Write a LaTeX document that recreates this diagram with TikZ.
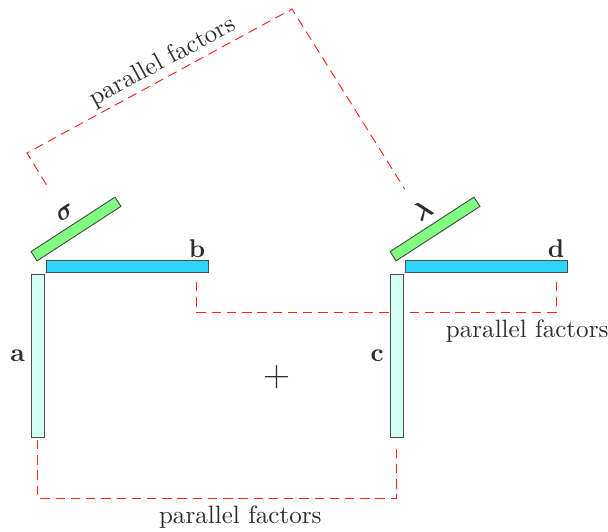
\documentclass[tikz,border=0pt]{standalone}
\usepackage{amsmath,amssymb,bm}
\usetikzlibrary{positioning,calc,backgrounds}
\definecolor{factorA}{RGB}{212,255,245}
\definecolor{factorB}{RGB}{48,213,255}
\definecolor{weightGreen}{RGB}{128,255,128}
\definecolor{pfRed}{RGB}{255,30,30}
\definecolor{labelGray}{RGB}{45,45,45}
\tikzset{
  basebar/.style={rectangle,draw=black!70,inner sep=0pt,outer sep=0pt},
  colbar/.style={basebar,fill=factorA,minimum width=0.195cm,minimum height=2.445cm},
  rowbar/.style={basebar,fill=factorB,minimum width=2.43cm,minimum height=0.18cm},
  wbar/.style={basebar,fill=weightGreen,minimum width=1.5cm,minimum height=0.165cm,rotate=33},
  lbl/.style={text=labelGray,font=\fontsize{10.7}{13}\selectfont},
  pfline/.style={draw=pfRed,dash pattern=on 4pt off 2.5pt},
  pflabel/.style={text=labelGray,font=\fontsize{10.7}{13}\selectfont}
}

\begin{document}
\begin{tikzpicture}
  \useasboundingbox (0,0) rectangle (9.12,-7.965);

  %% first term: a, b, sigma
  \node[colbar] (a) at (0.5625,-5.3325) {};
  \node[rowbar,above right=0.03cm and 0.03cm of a.north east] (b) {};
  \node[wbar] (sigma) at (1.14,-3.435) {};
  \node[lbl,rotate=33,anchor=south] (sigmaLbl) at (sigma.north) {$\boldsymbol{\sigma}$};
  \node[lbl,left=-0.03cm of a] (aLbl) {$\mathbf{a}$};
  \node[lbl,anchor=south east,inner sep=1pt] (bLbl) at (b.north east) {$\mathbf{b}$};

  %% plus sign
  \node[text=labelGray,font=\fontsize{16}{19}\selectfont] (plus) at (4.155,-5.65) {+};

  %% second term: c, d, lambda
  \node[colbar,right=5.19cm of a] (c) {};
  \node[rowbar,above right=0.03cm and 0.03cm of c.north east] (d) {};
  \node[wbar] (lambda) at ($(sigma)+(5.385,0)$) {};
  \node[lbl,rotate=33,anchor=south] (lambdaLbl) at (lambda.north) {$\boldsymbol{\lambda}$};
  \node[lbl,left=-0.03cm of c] (cLbl) {$\mathbf{c}$};
  \node[lbl,anchor=south east,inner sep=1pt] (dLbl) at (d.north east) {$\mathbf{d}$};

  %% parallel factor links
  \coordinate (botL) at ($(a.south)+(0,-0.915)$);
  \coordinate (botR) at (botL -| c.south);
  \coordinate (midL) at ($(b.south east)+(-0.18,-0.6)$);
  \coordinate (midR) at ($(d.south east)+(-0.165,-0.6)$);
  \coordinate (topL) at (0.405,-2.295);
  \coordinate (topM) at (4.38,-0.135);
  \begin{pgfonlayer}{background}
    \draw[pfline] ([yshift=-0.045cm]a.south) -- (botL)
      -- node[below,pflabel,pos=0.565] {parallel factors} (botR)
      -- ([yshift=-0.135cm]c.south);
    \draw[pfline] ($(midL |- b.south)+(0,-0.15)$) -- (midL)
      -- node[below,pflabel,pos=0.92] {parallel factors} (midR)
      -- ($(midR |- d.south)+(0,-0.15)$);
    \draw[pfline] ($(sigmaLbl.center)+(-0.285,0.42)$) -- (topL)
      -- node[above,sloped,pflabel,inner sep=1.5pt,pos=0.54] {parallel factors} (topM)
      -- ($(lambdaLbl.center)+(-0.27,0.315)$);
  \end{pgfonlayer}
\end{tikzpicture}
\end{document}
